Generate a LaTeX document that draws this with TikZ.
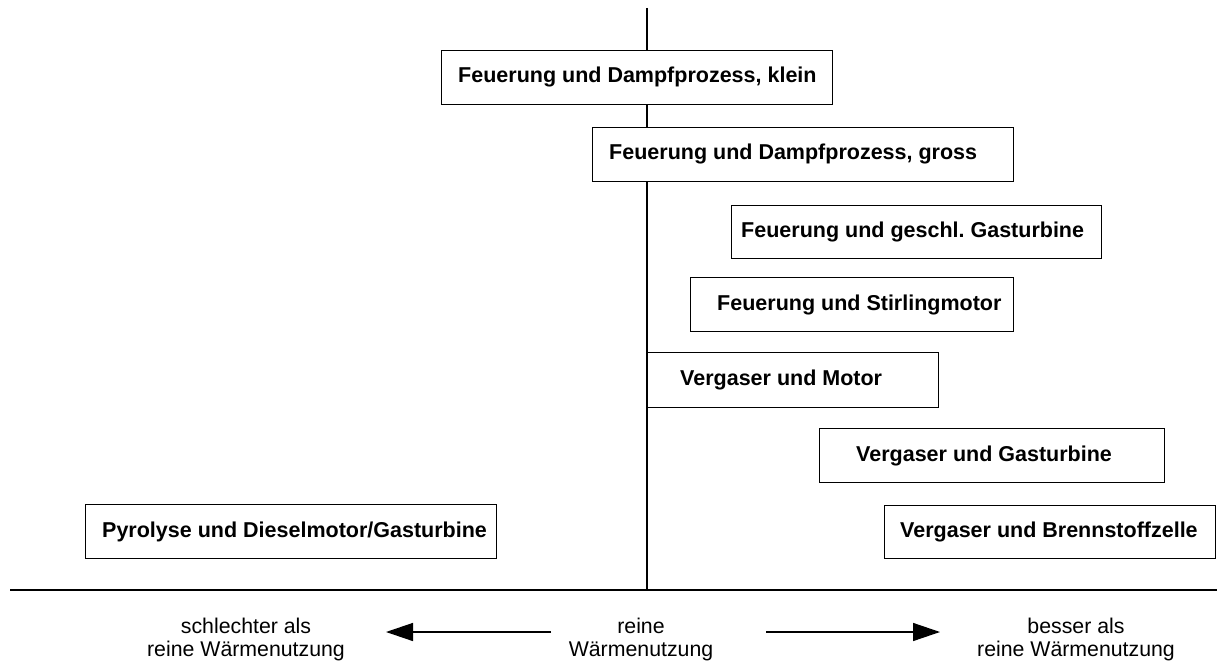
\documentclass[tikz,border=0pt]{standalone}
\usepackage{fontspec}
\setmainfont{Liberation Sans}
\usetikzlibrary{arrows.meta}
\tikzset{
  axis/.style={line width=1.4pt, black},
  procbox/.style={draw=black, line width=1.4pt, fill=white, rectangle, inner sep=0pt, anchor=north west},
  proclabel/.style={anchor=base west, inner sep=0pt, font=\fontsize{21.5}{24}\selectfont\bfseries},
  scalelabel/.style={align=center, inner sep=0pt, font=\fontsize{21.3}{23}\selectfont},
  scalearrow/.style={line width=1.4pt, -{Triangle[length=27pt, width=18pt]}}
}
\begin{document}
\frenchspacing
\begin{tikzpicture}[x=1pt, y=-1pt]
\useasboundingbox (0,0) rectangle (1217,663);

% reference axis and baseline
\coordinate (vtop) at (647,8);
\coordinate (vbot) at (647,590);
\coordinate (hl) at (10,590);
\coordinate (hr) at (1217,590);
\draw[axis] (vtop) -- (vbot);
\draw[axis] (hl) -- (hr);

% process boxes
\node[procbox, minimum width=391pt, minimum height=54pt] (b1) at (441,50) {};
\node[proclabel] (t1) at (458,83) {Feuerung und Dampfprozess, klein};

\node[procbox, minimum width=421pt, minimum height=54pt] (b2) at (592,127) {};
\node[proclabel] (t2) at (609,160) {Feuerung und Dampfprozess, gross};

\node[procbox, minimum width=370pt, minimum height=53pt] (b3) at (731,205) {};
\node[proclabel] (t3) at (741,237.5) {Feuerung und geschl. Gasturbine};

\node[procbox, minimum width=323pt, minimum height=54pt] (b4) at (690,277) {};
\node[proclabel] (t4) at (717,310) {Feuerung und Stirlingmotor};

\node[procbox, minimum width=291pt, minimum height=55pt] (b5) at (647,352) {};
\node[proclabel] (t5) at (680,385.5) {Vergaser und Motor};

\node[procbox, minimum width=345pt, minimum height=54pt] (b6) at (819,428) {};
\node[proclabel] (t6) at (856,461) {Vergaser und Gasturbine};

\node[procbox, minimum width=331pt, minimum height=53pt] (b7) at (884,505) {};
\node[proclabel] (t7) at (900,537.5) {Vergaser und Brennstoffzelle};

\node[procbox, minimum width=411pt, minimum height=54pt] (b8) at (85,504) {};
\node[proclabel] (t8) at (102,537) {Pyrolyse und Dieselmotor/Gasturbine};

% scale labels below the baseline
\node[scalelabel] (lworse) at (246,639) {schlechter als\\reine Wärmenutzung};
\node[scalelabel] (lmid) at (641,639) {reine\\Wärmenutzung};
\node[scalelabel] (lbetter) at (1076,639) {besser als\\reine Wärmenutzung};

% direction arrows
\coordinate (la0) at (551,632);
\coordinate (la1) at (386,632);
\coordinate (ra0) at (766,632);
\coordinate (ra1) at (940,632);
\draw[scalearrow] (la0) -- (la1);
\draw[scalearrow] (ra0) -- (ra1);
\end{tikzpicture}
\end{document}
